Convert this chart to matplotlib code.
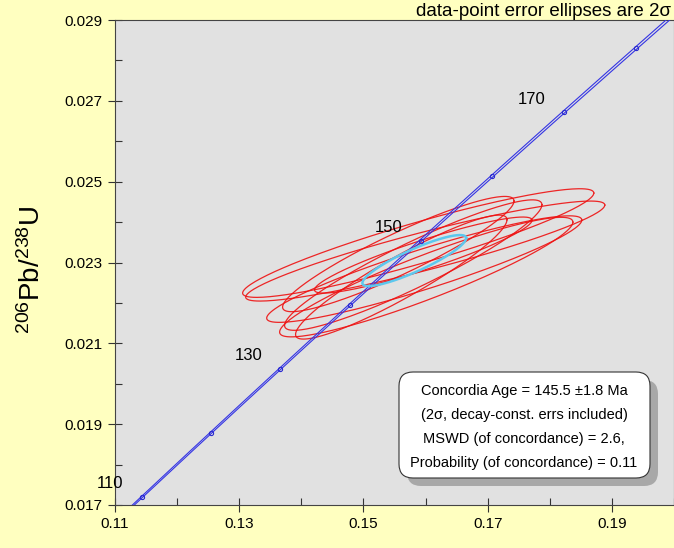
import numpy as np
import matplotlib
matplotlib.use("Agg")
import matplotlib.pyplot as plt
from matplotlib.patches import FancyBboxPatch
from matplotlib.transforms import IdentityTransform

plt.rcParams['font.family'] = ['Liberation Sans', 'DejaVu Sans']
plt.rcParams['mathtext.fontset'] = 'custom'
plt.rcParams['mathtext.rm'] = 'Liberation Sans'
plt.rcParams['mathtext.it'] = 'Liberation Sans'

# decay constants (1/yr) and 2-sigma relative error of lambda235
LAM238 = 1.55125e-10
LAM235 = 9.8485e-10
LAM235_ERR = 0.00136

# concordia ticks (Ma)
tick_ages = [100, 110, 120, 130, 140, 150, 160, 170, 180, 190, 200]
label_ages = [110, 130, 150, 170]

# data-point ellipses (2 sigma): 207Pb/235U, 206Pb/238U, errors, rho
ell_x = [0.15882, 0.15995, 0.15979, 0.16011, 0.15802, 0.15561, 0.15963, 0.15609]
ell_y = [0.023481, 0.023283, 0.022837, 0.022639, 0.022936, 0.023209, 0.023184, 0.022639]
ell_sx = [0.02827, 0.02891, 0.02537, 0.02361, 0.02072, 0.01863, 0.01751, 0.01702]
ell_sy = [0.001344, 0.001237, 0.001318, 0.001479, 0.001614, 0.001426, 0.000941, 0.001534]
ell_rho = [0.92, 0.92, 0.92, 0.92, 0.925, 0.92, 0.915, 0.925]

# concordia age ellipse
age_x, age_y = 0.15818, 0.023048
age_sx, age_sy, age_rho = 0.00835, 0.000631, 0.88

box_lines = [
    "Concordia Age = 145.5 \u00b11.8 Ma",
    "(2\u03c3, decay-const. errs included)",
    "MSWD (of concordance) = 2.6,",
    "Probability (of concordance) = 0.11",
]


def ellipse(cx, cy, sx, sy, rho, n=240):
    th = np.linspace(0, 2 * np.pi, n)
    x = cx + sx * np.cos(th)
    y = cy + sy * (rho * np.cos(th) + np.sqrt(1 - rho ** 2) * np.sin(th))
    return x, y


def concordia(t_ma, lam235=LAM235):
    t = np.asarray(t_ma) * 1e6
    return np.exp(lam235 * t) - 1, np.exp(LAM238 * t) - 1


fig = plt.figure(figsize=(6.74, 5.48), dpi=100)
fig.patch.set_facecolor('#ffffc0')
ax = fig.add_axes([115 / 674, 43 / 548, 559 / 674, 485 / 548])
ax.set_facecolor('#e1e1e1')

# concordia band
t = np.linspace(90, 220, 400)
for f in (1 - LAM235_ERR, 1 + LAM235_ERR):
    cx, cy = concordia(t, LAM235 * f)
    ax.plot(cx, cy, color='#3434e4', lw=0.8, zorder=3)
mx, my = concordia(tick_ages)
ax.plot(mx, my, 'o', ms=3, mfc='none', mec='#2a2ad0', mew=0.8, zorder=4)
for a in label_ages:
    lx, ly = concordia(a)
    ax.annotate(str(a), (lx, ly), xytext=(-32, 13), textcoords='offset pixels',
                ha='center', va='center', fontsize=12, zorder=5)

for i in range(len(ell_x)):
    x, y = ellipse(ell_x[i], ell_y[i], ell_sx[i], ell_sy[i], ell_rho[i])
    ax.plot(x, y, color='#ee1111', lw=0.9, alpha=0.9, zorder=2)

x, y = ellipse(age_x, age_y, age_sx, age_sy, age_rho)
ax.plot(x, y, color='#5cc8ee', lw=1.8, zorder=3)

ax.set_xlim(0.11, 0.20)
ax.set_ylim(0.017, 0.029)
ax.set_xticks([0.11, 0.13, 0.15, 0.17, 0.19])
ax.set_xticks(np.arange(0.12, 0.20, 0.02), minor=True)
ax.set_yticks([0.017, 0.019, 0.021, 0.023, 0.025, 0.027, 0.029])
ax.set_yticks(np.arange(0.018, 0.029, 0.002), minor=True)
ax.set_xticklabels(['0.11', '0.13', '0.15', '0.17', '0.19'])
ax.set_yticklabels(['0.017', '0.019', '0.021', '0.023', '0.025', '0.027', '0.029'])
ax.tick_params(which='major', direction='inout', length=10, width=0.8,
               labelsize=11, pad=4, colors='#333333', labelcolor='black')
ax.tick_params(which='minor', direction='in', length=5, width=0.8, colors='#333333')
for s in ax.spines.values():
    s.set_color('#444444')
    s.set_linewidth(0.8)

ax.set_ylabel(r'$^{206}$Pb/$^{238}$U', fontsize=20)
ax.yaxis.set_label_coords(-0.123, 0.485)

fig.text(671 / 674, 1 - 12 / 548, 'data-point error ellipses are 2\u03c3',
         ha='right', va='center', fontsize=13.5)

# result box with shadow (display pixel coords)
shadow = FancyBboxPatch((407, 62), 251, 106, boxstyle='round,pad=0,rounding_size=14',
                        transform=IdentityTransform(), fc='#a8a8a8', ec='none',
                        zorder=6, clip_on=False)
box = FancyBboxPatch((399, 70), 251, 106, boxstyle='round,pad=0,rounding_size=14',
                     transform=IdentityTransform(), fc='white', ec='#333333', lw=0.8,
                     zorder=7, clip_on=False)
ax.add_artist(shadow)
ax.add_artist(box)
for k, line in enumerate(box_lines):
    ax.text(524, 548 - 391 - k * 24, line, transform=IdentityTransform(),
            ha='center', va='center', fontsize=10.5, zorder=8)

fig.savefig('out.png', dpi=100, facecolor=fig.get_facecolor())
